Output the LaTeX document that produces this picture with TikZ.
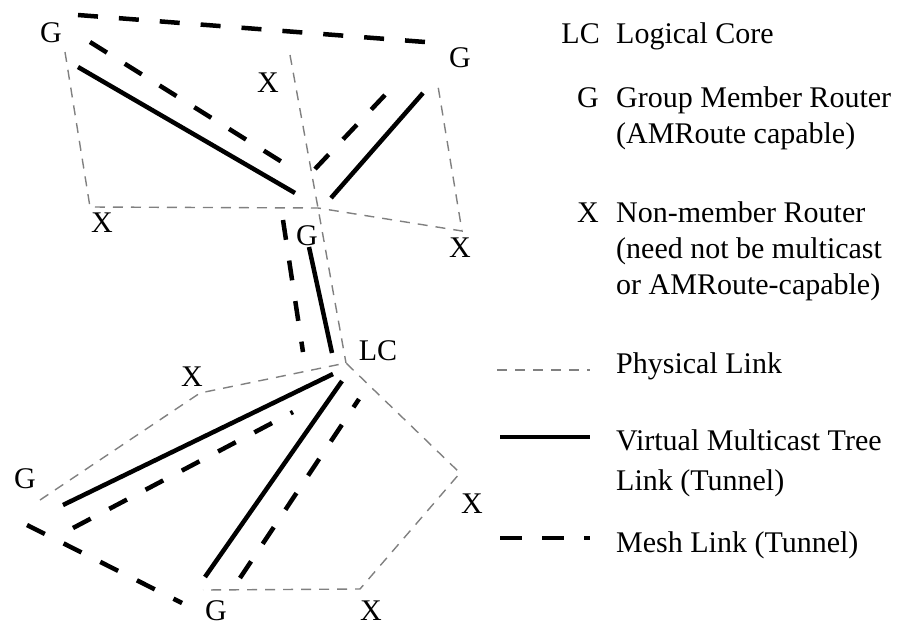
\documentclass[tikz,border=0pt]{standalone}
\usepackage{fontspec}
\setmainfont{Liberation Serif}
\tikzset{
  phys/.style={draw=black!50, line width=1.4pt, dash pattern=on 10pt off 8pt},
  tree/.style={line width=4.5pt},
  mesh/.style={line width=4.5pt, dash pattern=on 20pt off 21pt},
  rlabel/.style={font=\fontsize{30}{36}\selectfont, inner sep=0pt},
  legsym/.style={rlabel, anchor=base east},
  legtext/.style={font=\fontsize{30}{36}\selectfont, inner sep=0pt, align=left, anchor=base west},
}
\begin{document}
\begin{tikzpicture}[x=1pt, y=-1pt]
\useasboundingbox (0,0) rectangle (897,630);
% routers
\coordinate (gTL) at (65,52);
\coordinate (xM) at (290,55);
\coordinate (gTR) at (437,80);
\coordinate (xL) at (90,207);
\coordinate (gJ) at (318,208);
\coordinate (xR) at (462,231);
\coordinate (lc) at (346,363);
\coordinate (xBL) at (200,393);
\coordinate (gL) at (40,500);
\coordinate (xR2) at (460,473);
\coordinate (xB) at (360,589);
\coordinate (gB) at (203,590);
\node[rlabel] (gTLl) at (51,33) {G};
\node[rlabel] (xMl) at (268,83) {X};
\node[rlabel] (gTRl) at (460,58) {G};
\node[rlabel] (xLl) at (102,223) {X};
\node[rlabel] (gJl) at (307,236) {G};
\node[rlabel] (xRl) at (460,248) {X};
\node[rlabel] (lcl) at (378,351) {LC};
\node[rlabel] (xBLl) at (192,377) {X};
\node[rlabel] (gLl) at (25,479) {G};
\node[rlabel] (xR2l) at (472,504) {X};
\node[rlabel] (gBl) at (216,611) {G};
\node[rlabel] (xBl) at (371,611) {X};
% physical links
\draw[phys] (gTL) -- (xL) -- (gJ) -- (xR) -- (gTR);
\draw[phys] (xM) -- (gJ) -- (lc);
\draw[phys] (gL) -- (xBL) -- (lc) -- (xR2) -- (xB) -- (gB);
% tunnels
\coordinate (t1a) at (78,67);   \coordinate (t1b) at (295,193);
\coordinate (m1a) at (90,42);   \coordinate (m1b) at (282,162);
\coordinate (m2a) at (78,15);   \coordinate (m2b) at (425,42);
\coordinate (t2a) at (423,93);  \coordinate (t2b) at (331,198);
\coordinate (m3a) at (385,95);  \coordinate (m3b) at (315,169);
\coordinate (t3a) at (309,247); \coordinate (t3b) at (332,353);
\coordinate (m4a) at (283,220); \coordinate (m4b) at (303,352);
\coordinate (t4a) at (333,374); \coordinate (t4b) at (63,505);
\coordinate (m5a) at (73,528);  \coordinate (m5b) at (293,412);
\coordinate (t5a) at (342,381); \coordinate (t5b) at (205,577);
\coordinate (m6a) at (240,578); \coordinate (m6b) at (359,399);
\coordinate (m7a) at (27,525);  \coordinate (m7b) at (182,603);
\draw[tree] (t1a) -- (t1b);
\draw[tree] (t2a) -- (t2b);
\draw[tree] (t3a) -- (t3b);
\draw[tree] (t4a) -- (t4b);
\draw[tree] (t5a) -- (t5b);
\draw[mesh] (m1a) -- (m1b);
\draw[mesh] (m2a) -- (m2b);
\draw[mesh] (m3a) -- (m3b);
\draw[mesh] (m4a) -- (m4b);
\draw[mesh] (m5a) -- (m5b);
\draw[mesh] (m6a) -- (m6b);
\draw[mesh] (m7a) -- (m7b);
% legend (multi-line texts sit on their last line)
\node[legsym] (symLC) at (600,43) {LC};
\node[legtext] (txtLC) at (616,43) {Logical Core};
\node[legsym] (symG) at (599,107) {G};
\node[legtext] (txtG) at (616,143) {Group Member Router\\(AMRoute capable)};
\node[legsym] (symX) at (599,222) {X};
\node[legtext] (txtX) at (616,294) {Non-member Router\\(need not be multicast\\or AMRoute-capable)};
\coordinate (phyA) at (497,370); \coordinate (phyB) at (590,370);
\draw[phys] (phyA) -- (phyB);
\node[legtext] (txtPhy) at (616,373) {Physical Link};
\coordinate (treeA) at (500,437); \coordinate (treeB) at (590,437);
\draw[tree] (treeA) -- (treeB);
\node[legtext, font=\fontsize{30}{40}\selectfont] (txtTree) at (616,490) {Virtual Multicast Tree\\Link (Tunnel)};
\coordinate (meshA) at (500,538); \coordinate (meshB) at (590,538);
\draw[mesh, dash pattern=on 22pt off 20pt] (meshA) -- (meshB);
\node[legtext] (txtMesh) at (616,552) {Mesh Link (Tunnel)};
\end{tikzpicture}
\end{document}
